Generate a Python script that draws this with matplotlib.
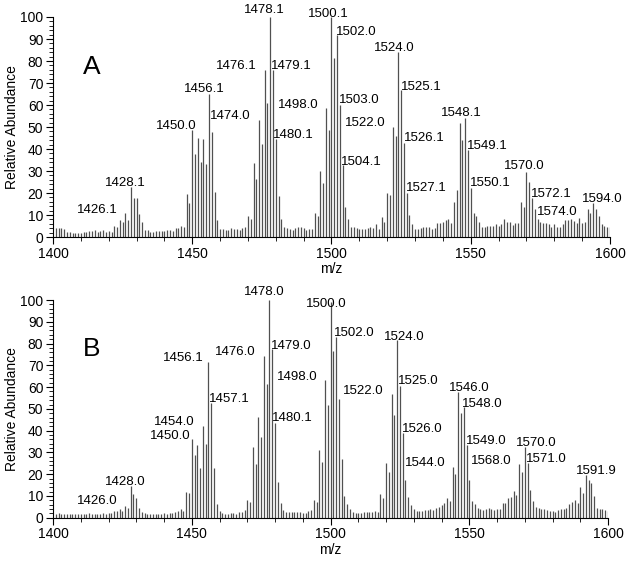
import numpy as np
import matplotlib
matplotlib.use("Agg")
import matplotlib.pyplot as plt
from matplotlib.ticker import MultipleLocator

plt.rcParams["font.family"] = ["Liberation Sans", "DejaVu Sans"]

# m/z axis: one stick per unit from 1401 to 1600
mz_first = 1401
mz_last = 1600

# relative abundance, spectrum A
abund_a = [
    4.0, 4.0, 4.0, 3.8, 2.4, 2.2, 2.0, 2.0, 2.0, 1.8,          # 1401-1410
    2.4, 2.4, 2.7, 2.8, 3.2, 2.4, 2.8, 3.2, 2.4, 2.6,          # 1411-1420
    2.4, 5.2, 4.7, 7.7, 6.8, 10.8, 7.7, 22.9, 17.6, 17.6,      # 1421-1430
    10.5, 6.8, 3.3, 3.0, 2.4, 2.4, 2.8, 2.8, 2.8, 2.8,         # 1431-1440
    3.0, 3.3, 2.8, 4.0, 4.0, 5.2, 4.4, 19.6, 15.6, 48.6,       # 1441-1450
    37.6, 45.0, 34.0, 44.5, 33.0, 65.0, 47.7, 20.5, 7.7, 3.5,  # 1451-1460
    3.5, 3.2, 3.2, 4.1, 3.5, 3.5, 3.2, 4.1, 4.5, 9.7,          # 1461-1470
    8.0, 33.5, 26.4, 53.0, 42.3, 76.0, 61.0, 100.0, 76.0, 44.4,  # 1471-1480
    18.6, 8.0, 4.4, 4.1, 3.8, 3.2, 4.1, 4.7, 4.4, 4.1,         # 1481-1490
    3.2, 3.8, 3.8, 10.7, 9.5, 30.2, 24.7, 58.5, 48.6, 100.0,   # 1491-1500
    81.2, 91.8, 60.0, 32.7, 13.8, 8.2, 4.7, 4.4, 3.9, 3.5,     # 1501-1510
    3.5, 3.5, 3.9, 4.7, 3.9, 5.9, 3.5, 9.2, 7.0, 19.8,         # 1511-1520
    19.0, 50.2, 45.9, 84.2, 66.8, 42.6, 20.2, 10.1, 5.9, 3.5,  # 1521-1530
    3.5, 3.9, 4.4, 4.4, 4.4, 3.5, 3.9, 6.5, 6.5, 7.0,          # 1531-1540
    7.7, 8.0, 6.5, 16.1, 21.4, 52.0, 44.1, 53.9, 39.5, 22.1,   # 1541-1550
    10.7, 9.5, 7.0, 4.7, 4.7, 5.0, 5.0, 5.0, 5.9, 5.0,         # 1551-1560
    5.9, 8.0, 7.0, 7.0, 5.5, 6.2, 6.2, 16.1, 13.5, 29.7,       # 1561-1570
    25.2, 17.6, 12.6, 8.0, 7.0, 6.5, 6.2, 5.9, 4.7, 5.9,       # 1571-1580
    4.7, 4.7, 5.9, 7.7, 7.7, 8.0, 7.3, 6.2, 8.5, 6.2,          # 1581-1590
    7.0, 12.6, 10.7, 15.3, 12.6, 9.5, 5.9, 5.2, 4.7, 4.4,      # 1591-1600
]

# relative abundance, spectrum B
abund_b = [
    1.8, 2.0, 1.8, 1.7, 1.5, 1.7, 1.5, 1.7, 1.5, 1.7,          # 1401-1410
    1.5, 1.7, 2.0, 1.7, 1.7, 1.5, 1.8, 2.0, 1.8, 2.3,          # 1411-1420
    2.3, 3.0, 3.2, 3.8, 3.2, 5.2, 4.3, 14.7, 10.7, 9.2,        # 1421-1430
    4.3, 2.8, 2.0, 1.8, 1.7, 1.7, 1.8, 1.7, 1.8, 2.0,          # 1431-1440
    1.8, 2.0, 2.3, 2.8, 3.0, 3.8, 3.0, 12.0, 11.2, 36.0,       # 1441-1450
    28.8, 33.4, 23.0, 42.3, 33.7, 71.7, 52.5, 23.0, 6.3, 3.0,  # 1451-1460
    2.0, 1.8, 1.8, 2.0, 2.0, 1.8, 2.5, 2.5, 3.5, 8.1,          # 1461-1470
    7.4, 32.3, 24.7, 46.4, 37.2, 74.3, 61.4, 100.0, 77.3, 43.3,  # 1471-1480
    16.5, 6.9, 3.5, 2.8, 2.5, 2.5, 2.5, 2.5, 2.5, 2.3,         # 1481-1490
    2.0, 3.2, 3.5, 8.1, 7.4, 31.0, 25.7, 63.2, 51.8, 99.0,     # 1491-1500
    76.7, 83.2, 54.5, 27.0, 10.0, 6.1, 3.8, 2.8, 2.0, 2.0,     # 1501-1510
    2.3, 2.8, 2.8, 2.8, 2.8, 3.1, 2.8, 10.7, 9.2, 25.3,        # 1511-1520
    21.1, 56.7, 47.2, 81.6, 60.5, 38.7, 17.3, 9.6, 5.8, 3.8,   # 1521-1530
    3.1, 3.1, 3.1, 3.5, 3.5, 3.8, 3.5, 4.3, 5.0, 5.8,          # 1531-1540
    6.6, 9.2, 7.7, 23.4, 19.9, 57.9, 48.2, 50.7, 33.4, 17.3,   # 1541-1550
    7.7, 6.1, 4.6, 3.8, 3.5, 3.8, 4.3, 3.8, 3.5, 3.8,          # 1551-1560
    3.8, 6.6, 6.6, 8.9, 9.6, 12.3, 10.4, 24.5, 21.1, 32.6,     # 1561-1570
    25.0, 12.7, 7.8, 5.0, 4.3, 3.8, 3.8, 3.5, 3.2, 3.2,        # 1571-1580
    2.8, 3.5, 3.8, 3.8, 4.3, 6.3, 7.4, 8.1, 6.6, 14.2,         # 1581-1590
    11.5, 19.6, 17.3, 15.8, 10.0, 4.3, 3.8, 3.8, 3.5, 3.2,     # 1591-1600
]

# peak annotations (text, m/z position, height position)
labels_a = [
    ("1426.1", 1415.9, 12.3), ("1428.1", 1426.0, 24.7),
    ("1450.0", 1444.3, 50.5), ("1456.1", 1454.4, 67.1),
    ("1474.0", 1463.8, 55.0), ("1476.1", 1466.0, 77.7),
    ("1478.1", 1476.0, 103.2), ("1479.1", 1485.4, 77.7),
    ("1498.0", 1488.1, 60.0), ("1480.1", 1486.3, 46.4),
    ("1500.1", 1498.8, 101.4), ("1502.0", 1509.0, 93.3),
    ("1524.0", 1522.6, 85.8), ("1503.0", 1510.0, 62.3),
    ("1525.1", 1532.3, 68.3), ("1522.0", 1512.2, 52.0),
    ("1526.1", 1533.2, 44.9), ("1504.1", 1510.7, 34.2),
    ("1527.1", 1533.9, 22.1), ("1548.1", 1546.5, 56.2),
    ("1549.1", 1555.9, 41.5), ("1550.1", 1557.2, 24.7),
    ("1570.0", 1569.1, 32.4), ("1572.1", 1579.0, 19.4),
    ("1574.0", 1581.0, 11.2), ("1594.0", 1597.2, 17.3),
]

labels_b = [
    ("1426.0", 1415.8, 7.8), ("1428.0", 1426.1, 16.5),
    ("1454.0", 1443.6, 44.1), ("1450.0", 1442.1, 37.7),
    ("1456.1", 1446.8, 73.5), ("1457.1", 1463.4, 54.5),
    ("1476.0", 1465.5, 76.3), ("1478.0", 1476.3, 103.8),
    ("1479.0", 1485.7, 78.9), ("1498.0", 1487.9, 64.5),
    ("1480.1", 1486.4, 45.6), ("1500.0", 1498.6, 98.2),
    ("1502.0", 1508.7, 85.0), ("1524.0", 1526.4, 82.9),
    ("1525.0", 1531.7, 62.8), ("1522.0", 1511.9, 58.3),
    ("1526.0", 1533.2, 40.6), ("1544.0", 1534.3, 25.3),
    ("1546.0", 1550.0, 59.4), ("1548.0", 1554.7, 52.2),
    ("1549.0", 1556.1, 35.2), ("1568.0", 1557.9, 26.2),
    ("1570.0", 1574.3, 34.2), ("1571.0", 1577.7, 27.0),
    ("1591.9", 1595.9, 21.5),
]

mz = np.arange(mz_first, mz_last + 1)

fig = plt.figure(figsize=(6.26, 5.61), dpi=100)
ax_a = fig.add_axes([0.0847, 0.5775, 0.8897, 0.3922])
ax_b = fig.add_axes([0.0847, 0.0772, 0.8866, 0.3880])

for ax, abund, labels, letter in [(ax_a, abund_a, labels_a, "A"),
                                  (ax_b, abund_b, labels_b, "B")]:
    ax.vlines(mz, 0, abund, color="#505050", linewidth=0.9)
    for txt, x, y in labels:
        ax.text(x, y, txt, fontsize=9.5, ha="center", va="center", clip_on=False)
    ax.text(1414, 77.5, letter, fontsize=19, ha="center", va="center")

    ax.set_xlim(1400, 1600)
    ax.set_ylim(0, 100)
    ax.spines["top"].set_visible(False)
    ax.spines["right"].set_visible(False)
    ax.xaxis.set_major_locator(MultipleLocator(50))
    ax.xaxis.set_minor_locator(MultipleLocator(10))
    ax.yaxis.set_major_locator(MultipleLocator(10))
    ax.yaxis.set_minor_locator(MultipleLocator(2))
    ax.tick_params(axis="both", which="major", direction="out", length=5,
                   width=0.8, labelsize=10, pad=2)
    ax.tick_params(axis="both", which="minor", direction="out", length=3, width=0.6)
    ax.set_xlabel("m/z", fontsize=10, labelpad=1)
    ax.set_ylabel("Relative Abundance", fontsize=10, labelpad=1)

fig.savefig("out.png", dpi=100)
